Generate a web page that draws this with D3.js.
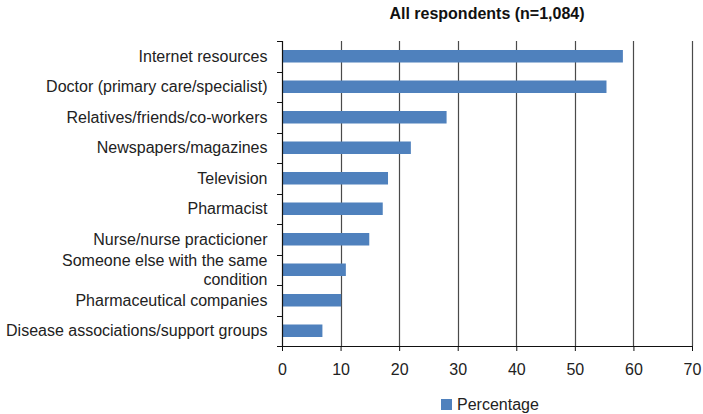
<!DOCTYPE html>
<html>
<head>
<meta charset="utf-8">
<script src="https://cdn.jsdelivr.net/npm/d3@7"></script>
<style>
  body { margin: 0; background: #fff; }
  svg { display: block; font-family: "Liberation Sans", Arial, sans-serif; }
</style>
</head>
<body>
<svg id="chart" width="703" height="414"></svg>
<script>
// chart data
var categories = [
  "Internet resources",
  "Doctor (primary care/specialist)",
  "Relatives/friends/co-workers",
  "Newspapers/magazines",
  "Television",
  "Pharmacist",
  "Nurse/nurse practicioner",
  "Someone else with the same\ncondition",
  "Pharmaceutical companies",
  "Disease associations/support groups"
];
var percentages = [58.2, 55.4, 28.1, 22, 18.1, 17.2, 14.9, 10.9, 10.1, 6.9];
var xTicks = [0, 10, 20, 30, 40, 50, 60, 70];
var title = "All respondents (n=1,084)";
var seriesName = "Percentage";

var svg = d3.select("#chart");

var margin = { left: 282, right: 11, top: 41, bottom: 68 };
var width = 703 - margin.left - margin.right;
var height = 414 - margin.top - margin.bottom;

var x = d3.scaleLinear().domain([0, 70]).range([0, width]);
var y = d3.scaleBand().domain(categories).range([0, height]).paddingInner(0.59).paddingOuter(0.295);

var g = svg.append("g").attr("transform", "translate(" + margin.left + "," + margin.top + ")");

// vertical gridlines
g.selectAll(".grid").data(xTicks.slice(1)).enter().append("line")
  .attr("x1", function (d) { return Math.round(x(d)) + 0.5; })
  .attr("x2", function (d) { return Math.round(x(d)) + 0.5; })
  .attr("y1", 0)
  .attr("y2", height)
  .attr("stroke", "#4a4a4a")
  .attr("stroke-width", 1.2);

// bars
g.selectAll("rect.bar").data(categories).enter().append("rect")
  .attr("class", "bar")
  .attr("x", 0)
  .attr("y", function (d) { return y(d); })
  .attr("width", function (d, i) { return x(percentages[i]); })
  .attr("height", y.bandwidth())
  .attr("fill", "#4F81BD");

// x axis
var xAxis = g.append("g")
  .attr("transform", "translate(0," + height + ")")
  .call(d3.axisBottom(x).tickValues(xTicks).tickSize(5).tickSizeOuter(0));
xAxis.select(".domain").attr("stroke", "#111").attr("stroke-width", 1.2);
xAxis.selectAll(".tick line").attr("stroke", "#111");
xAxis.selectAll(".tick text")
  .attr("dy", null)
  .attr("y", 28.5)
  .attr("fill", "#222")
  .style("font-size", "16px");

// y axis line with ticks on band boundaries
var bounds = d3.range(categories.length + 1).map(function (i) { return i * (height / categories.length); });
g.append("line")
  .attr("x1", 0.5).attr("x2", 0.5)
  .attr("y1", 0).attr("y2", height)
  .attr("stroke", "#111").attr("stroke-width", 1.2);
g.selectAll(".ytick").data(bounds).enter().append("line")
  .attr("x1", -5).attr("x2", 0)
  .attr("y1", function (d) { return Math.round(d) + 0.5; })
  .attr("y2", function (d) { return Math.round(d) + 0.5; })
  .attr("stroke", "#111");

// category labels
var labels = g.selectAll(".cat").data(categories).enter().append("text")
  .attr("text-anchor", "end")
  .attr("fill", "#222")
  .style("font-size", "16px")
  .attr("transform", function (d) { return "translate(-14.5," + (y(d) + y.bandwidth() / 2) + ")"; });
labels.each(function (d) {
  var lines = d.split("\n");
  var t = d3.select(this);
  var lh = 19;
  lines.forEach(function (ln, i) {
    t.append("tspan")
      .attr("x", 0)
      .attr("y", (i - (lines.length - 1) / 2) * lh)
      .attr("dy", "0.35em")
      .text(ln);
  });
});

// title
svg.append("text")
  .attr("x", margin.left + width / 2)
  .attr("y", 18.5)
  .attr("text-anchor", "middle")
  .attr("fill", "#111")
  .style("font-size", "16px")
  .style("font-weight", "bold")
  .text(title);

// legend
var legend = svg.append("g").attr("transform", "translate(441,399)");
legend.append("rect").attr("width", 11).attr("height", 11).attr("fill", "#4F81BD");
legend.append("text")
  .attr("x", 16)
  .attr("y", 10.5)
  .attr("fill", "#222")
  .style("font-size", "16px")
  .text(seriesName);
</script>
</body>
</html>
